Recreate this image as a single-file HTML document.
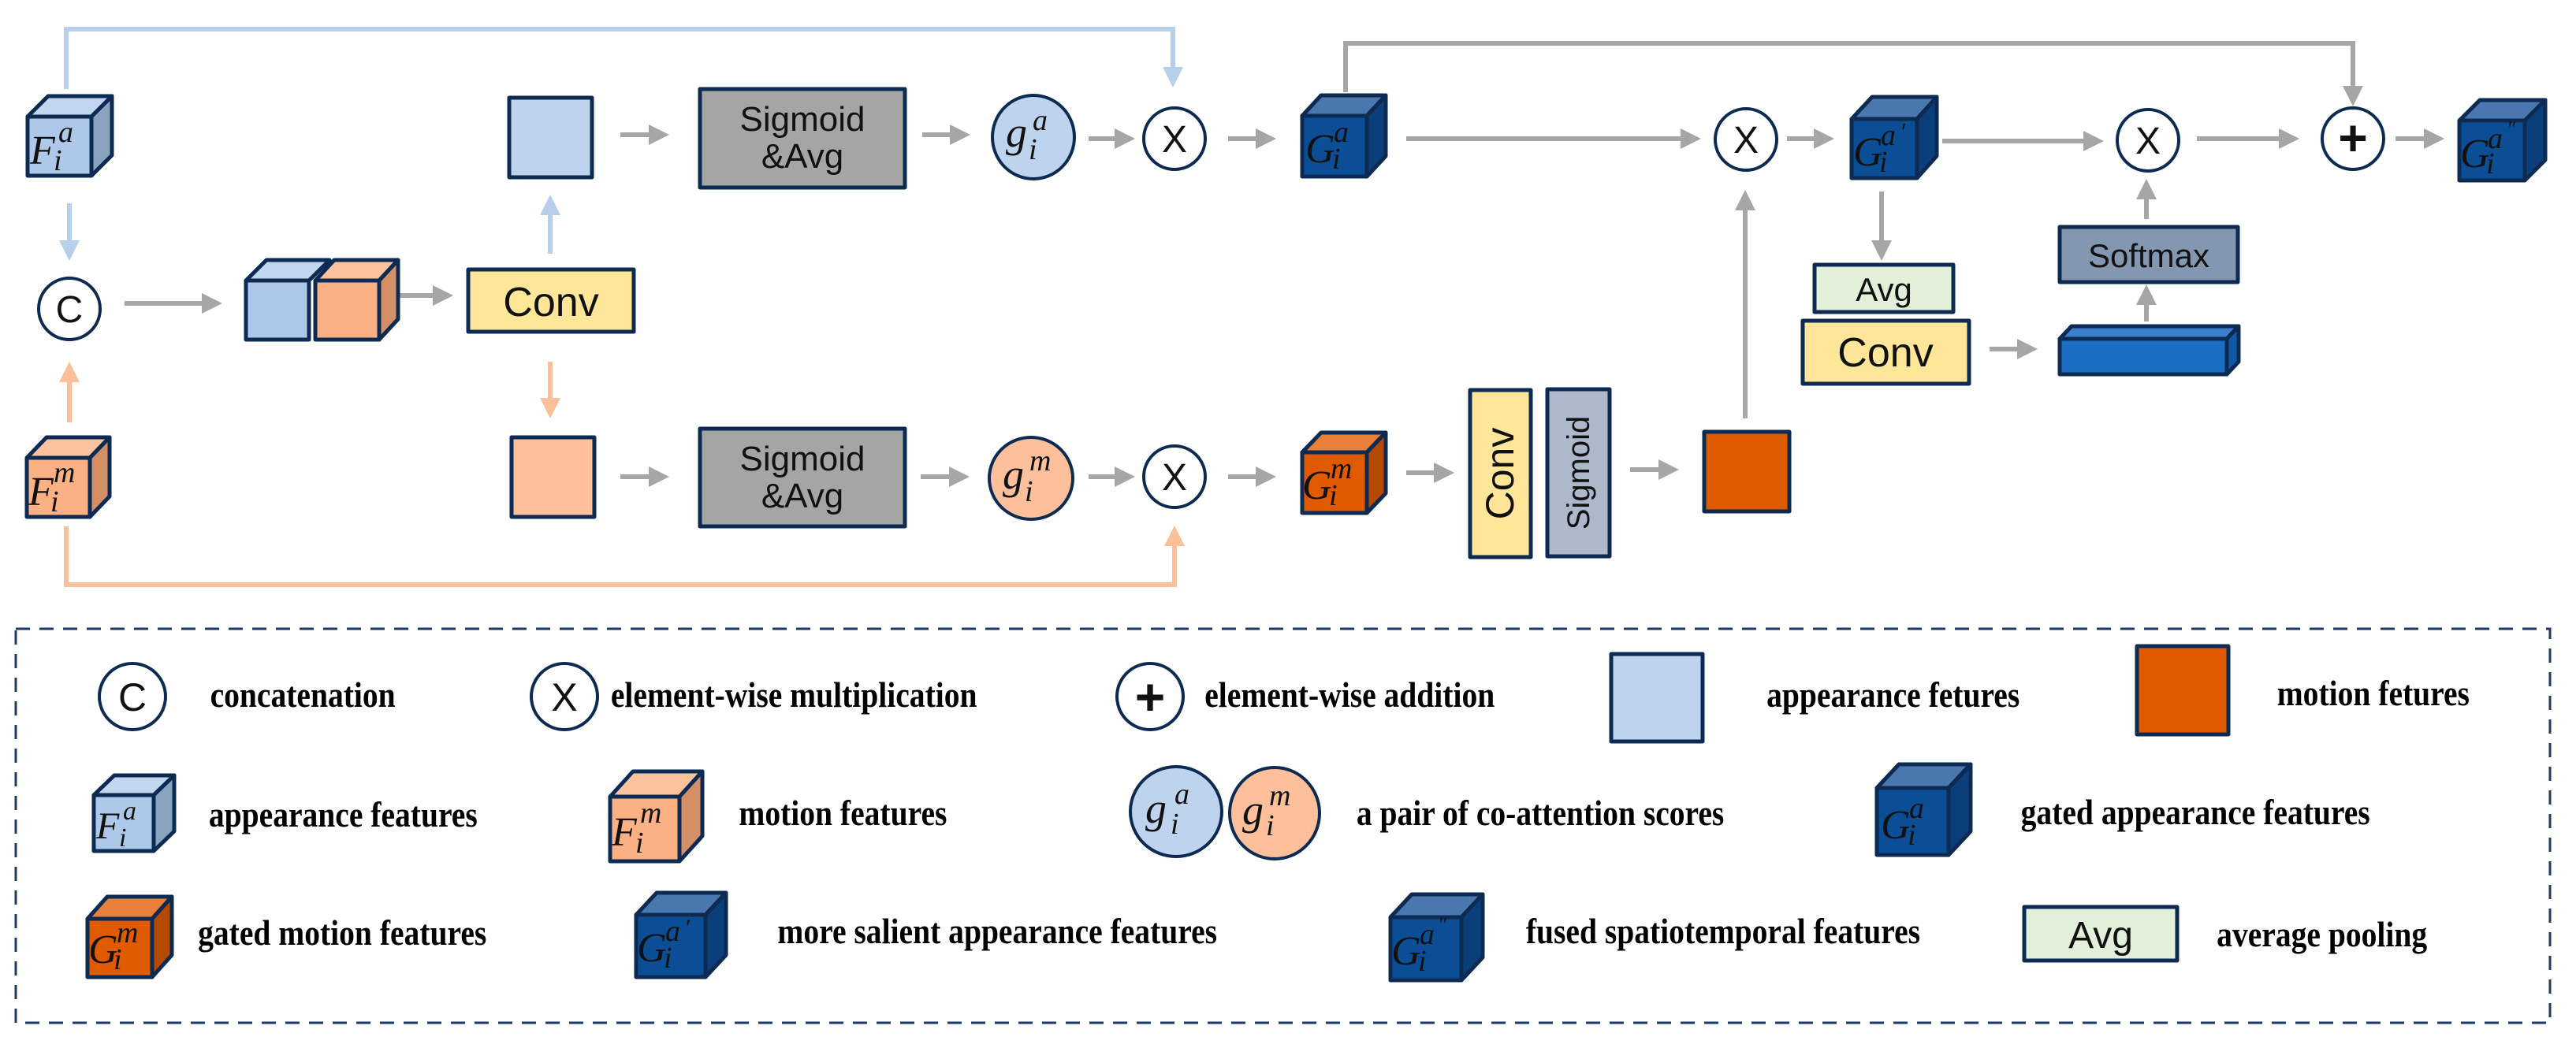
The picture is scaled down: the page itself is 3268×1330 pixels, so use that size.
<!DOCTYPE html>
<html><head><meta charset="utf-8"><style>
html,body{margin:0;padding:0;background:#fff}
svg{display:block}
.m{font-family:"Liberation Serif",serif;font-style:italic;fill:#111}
.s{font-family:"Liberation Sans",sans-serif;fill:#111}
.l{font-family:"Liberation Serif",serif;font-weight:bold;fill:#000;font-size:46px}
</style></head><body>
<svg width="3268" height="1330" viewBox="0 0 3268 1330" xmlns="http://www.w3.org/2000/svg">
<defs>
<marker id="ag" markerUnits="userSpaceOnUse" markerWidth="28" markerHeight="26" refX="2" refY="13" orient="auto"><path d="M0,0 L26,13 L0,26 z" fill="#a6a6a6"/></marker>
<marker id="ab" markerUnits="userSpaceOnUse" markerWidth="28" markerHeight="26" refX="2" refY="13" orient="auto"><path d="M0,0 L26,13 L0,26 z" fill="#b8cfec"/></marker>
<marker id="ao" markerUnits="userSpaceOnUse" markerWidth="28" markerHeight="26" refX="2" refY="13" orient="auto"><path d="M0,0 L26,13 L0,26 z" fill="#fbbf99"/></marker>
</defs>

<g stroke="#a6a6a6" stroke-width="6" fill="none" marker-end="url(#ag)">
<line x1="158" y1="385" x2="258" y2="385"/>
<line x1="505" y1="375" x2="551" y2="375"/>
<line x1="787" y1="171" x2="825" y2="171"/>
<line x1="787" y1="605" x2="825" y2="605"/>
<line x1="1170" y1="171" x2="1207" y2="171"/>
<line x1="1168" y1="605" x2="1206" y2="605"/>
<line x1="1381" y1="176" x2="1416" y2="176"/>
<line x1="1381" y1="605" x2="1416" y2="605"/>
<line x1="1558" y1="176" x2="1595" y2="176"/>
<line x1="1558" y1="605" x2="1595" y2="605"/>
<line x1="1784" y1="176" x2="2134" y2="176"/>
<line x1="1784" y1="600" x2="1821" y2="600"/>
<line x1="2068" y1="596" x2="2106" y2="596"/>
<line x1="2214" y1="531" x2="2214" y2="265"/>
<line x1="2267" y1="176" x2="2303" y2="176"/>
<line x1="2464" y1="179" x2="2645" y2="179"/>
<line x1="2787" y1="176" x2="2893" y2="176"/>
<line x1="3039" y1="176" x2="3077" y2="176"/>
<line x1="2387" y1="243" x2="2387" y2="307"/>
<line x1="2524" y1="443" x2="2561" y2="443"/>
<line x1="2723" y1="408" x2="2723" y2="385"/>
<line x1="2723" y1="278" x2="2723" y2="251"/>
<polyline points="1707,117 1707,55 2985,55 2985,111"/>
</g>
<g stroke="#b8cfec" stroke-width="6" fill="none" marker-end="url(#ab)">
<polyline points="84,113 84,37 1488,37 1488,87"/>
<line x1="88" y1="258" x2="88" y2="307"/>
<line x1="698" y1="322" x2="698" y2="271"/>
</g>
<g stroke="#fbbf99" stroke-width="6" fill="none" marker-end="url(#ao)">
<polyline points="84,668 84,742 1490,742 1490,691"/>
<line x1="88" y1="536" x2="88" y2="483"/>
<line x1="698" y1="459" x2="698" y2="507"/>
</g>

<g stroke="#0d2b52" stroke-width="5" stroke-linejoin="round">
<polygon points="35,148 61,122 142,122 116,148" fill="#c2d6ef"/>
<polygon points="116,148 142,122 142,197 116,223" fill="#8aa3bf"/>
<rect x="35" y="148" width="81" height="75" fill="#adc8e9"/>
<polygon points="34,581 59,555 139,555 114,581" fill="#fcc39e"/>
<polygon points="114,581 139,555 139,630 114,656" fill="#d58f67"/>
<rect x="34" y="581" width="80" height="75" fill="#fbb184"/>
<polygon points="312,356 338,330 418,330 392,356" fill="#c2d6ef"/>
<rect x="312" y="356" width="80" height="75" fill="#adc8e9"/>
<polygon points="400,356 424,330 505,330 481,356" fill="#fcc39e"/>
<polygon points="481,356 505,330 505,405 481,431" fill="#d58f67"/>
<rect x="400" y="356" width="81" height="75" fill="#fbb184"/>
<polygon points="1652,147 1676,121 1758,121 1734,147" fill="#4a77ad"/>
<polygon points="1734,147 1758,121 1758,198 1734,224" fill="#0a3f7c"/>
<rect x="1652" y="147" width="82" height="77" fill="#0b4e96"/>
<polygon points="1652,574 1676,549 1758,549 1734,574" fill="#e8803c"/>
<polygon points="1734,574 1758,549 1758,626 1734,651" fill="#b54900"/>
<rect x="1652" y="574" width="82" height="77" fill="#e05a00"/>
<polygon points="2349,151 2375,123 2457,123 2432,151" fill="#4a77ad"/>
<polygon points="2432,151 2457,123 2457,198 2432,226" fill="#0a3f7c"/>
<rect x="2349" y="151" width="83" height="75" fill="#0b4e96"/>
<polygon points="3120,153 3146,127 3229,127 3203,153" fill="#4a77ad"/>
<polygon points="3203,153 3229,127 3229,203 3203,229" fill="#0a3f7c"/>
<rect x="3120" y="153" width="83" height="76" fill="#0b4e96"/>
<polygon points="2613,430 2628,414 2840,414 2825,430" fill="#3b7fcf"/>
<polygon points="2825,430 2840,414 2840,459 2825,475" fill="#0f5aa8"/>
<rect x="2613" y="430" width="212" height="45" fill="#1a6fc4"/>
<rect x="646" y="124" width="105" height="101" fill="#bdd3ee"/>
<rect x="649" y="555" width="105" height="101" fill="#fdc09b"/>
<rect x="594" y="342" width="210" height="79" fill="#ffe699"/>
<rect x="888" y="113" width="260" height="125" fill="#a5a5a5"/>
<rect x="888" y="544" width="260" height="124" fill="#a5a5a5"/>
<rect x="1865" y="495" width="77" height="212" fill="#ffe699"/>
<rect x="1963" y="494" width="79" height="212" fill="#adb9ca"/>
<rect x="2162" y="548" width="108" height="101" fill="#e05a00"/>
<rect x="2302" y="336" width="176" height="60" fill="#e2f0d9"/>
<rect x="2287" y="407" width="211" height="80" fill="#ffe699"/>
<rect x="2613" y="288" width="226" height="70" fill="#8497b0"/>
</g>
<g stroke="#0d2b52" stroke-width="4">
<circle cx="88" cy="392" r="39" fill="#fff"/>
<circle cx="1490" cy="176" r="39" fill="#fff"/>
<circle cx="1490" cy="605" r="39" fill="#fff"/>
<circle cx="2215" cy="177" r="39" fill="#fff"/>
<circle cx="2725" cy="178" r="39" fill="#fff"/>
<circle cx="2985" cy="176" r="39" fill="#fff"/>
<ellipse cx="1311" cy="174" rx="52" ry="53" fill="#bdd3ee"/>
<ellipse cx="1308" cy="607" rx="53" ry="52" fill="#fdc09b"/>
</g>

<g class="s" text-anchor="middle">
<text x="88" y="409" font-size="48">C</text>
<text x="1490" y="193" font-size="48">X</text>
<text x="1490" y="622" font-size="48">X</text>
<text x="2215" y="194" font-size="48">X</text>
<text x="2725" y="195" font-size="48">X</text>
<text x="2985" y="197" font-size="64" font-weight="bold">+</text>
<text x="699" y="401" font-size="52">Conv</text>
<text x="1018" y="166" font-size="44">Sigmoid</text>
<text x="1018" y="213" font-size="44">&amp;Avg</text>
<text x="1018" y="597" font-size="44">Sigmoid</text>
<text x="1018" y="644" font-size="44">&amp;Avg</text>
<text x="2390" y="382" font-size="42">Avg</text>
<text x="2392" y="465" font-size="52">Conv</text>
<text x="2726" y="339" font-size="42">Softmax</text>
<text transform="translate(1920,601) rotate(-90)" font-size="50">Conv</text>
<text transform="translate(2016,600) rotate(-90)" font-size="40">Sigmoid</text>
</g>

<g class="m">
<text x="38" y="208" font-size="52">F</text><text x="74" y="180" font-size="38">a</text><text x="68" y="216" font-size="38">i</text>
<text x="36" y="641" font-size="52">F</text><text x="68" y="612" font-size="38">m</text><text x="64" y="649" font-size="38">i</text>
<text x="1276" y="186" font-size="54">g</text><text x="1310" y="165" font-size="38">a</text><text x="1305" y="202" font-size="38">i</text>
<text x="1272" y="620" font-size="54">g</text><text x="1306" y="597" font-size="38">m</text><text x="1300" y="636" font-size="38">i</text>
<text x="1656" y="206" font-size="52">G</text><text x="1692" y="180" font-size="38">a</text><text x="1690" y="214" font-size="38">i</text>
<text x="1652" y="633" font-size="52">G</text><text x="1688" y="607" font-size="38">m</text><text x="1686" y="641" font-size="38">i</text>
<text x="2351" y="210" font-size="52">G</text><text x="2386" y="184" font-size="38">a</text><text x="2410" y="178" font-size="32">′</text><text x="2384" y="218" font-size="38">i</text>
<text x="3121" y="212" font-size="52">G</text><text x="3156" y="188" font-size="38">a</text><text x="3180" y="172" font-size="26">"</text><text x="3154" y="220" font-size="38">i</text>
</g>

<rect x="20" y="798" width="3215" height="500" fill="none" stroke="#1f3864" stroke-width="3" stroke-dasharray="18 12"/>
<g stroke="#0d2b52" stroke-width="4">
<circle cx="168" cy="884" r="42" fill="#fff"/>
<circle cx="716" cy="884" r="42" fill="#fff"/>
<circle cx="1459" cy="884" r="42" fill="#fff"/>
<ellipse cx="1492" cy="1030" rx="58" ry="57" fill="#bdd3ee"/>
<ellipse cx="1617" cy="1032" rx="57" ry="58" fill="#fdc09b"/>
</g>
<g stroke="#0d2b52" stroke-width="5" stroke-linejoin="round">
<rect x="2044" y="830" width="116" height="111" fill="#bdd3ee"/>
<rect x="2711" y="820" width="116" height="112" fill="#e05a00"/>
<rect x="2568" y="1151" width="194" height="68" fill="#e2f0d9"/>
<polygon points="119,1009 145,984 221,984 195,1009" fill="#c2d6ef"/>
<polygon points="195,1009 221,984 221,1055 195,1080" fill="#8aa3bf"/>
<rect x="119" y="1009" width="76" height="71" fill="#adc8e9"/>
<polygon points="774,1011 803,979 891,979 862,1011" fill="#fcc39e"/>
<polygon points="862,1011 891,979 891,1061 862,1093" fill="#d58f67"/>
<rect x="774" y="1011" width="88" height="82" fill="#fbb184"/>
<polygon points="2381,1000 2409,970 2500,970 2472,1000" fill="#4a77ad"/>
<polygon points="2472,1000 2500,970 2500,1055 2472,1085" fill="#0a3f7c"/>
<rect x="2381" y="1000" width="91" height="85" fill="#0b4e96"/>
<polygon points="111,1166 136,1138 218,1138 193,1166" fill="#e8803c"/>
<polygon points="193,1166 218,1138 218,1212 193,1240" fill="#b54900"/>
<rect x="111" y="1166" width="82" height="74" fill="#e05a00"/>
<polygon points="807,1161 833,1133 921,1133 895,1161" fill="#4a77ad"/>
<polygon points="895,1161 921,1133 921,1212 895,1240" fill="#0a3f7c"/>
<rect x="807" y="1161" width="88" height="79" fill="#0b4e96"/>
<polygon points="1764,1164 1791,1135 1881,1135 1854,1164" fill="#4a77ad"/>
<polygon points="1854,1164 1881,1135 1881,1215 1854,1244" fill="#0a3f7c"/>
<rect x="1764" y="1164" width="90" height="80" fill="#0b4e96"/>
</g>
<g class="s" text-anchor="middle">
<text x="168" y="902" font-size="50">C</text>
<text x="716" y="902" font-size="50">X</text>
<text x="1459" y="907" font-size="66" font-weight="bold">+</text>
<text x="2665" y="1203" font-size="48">Avg</text>
</g>
<g class="m">
<text x="122" y="1064" font-size="48">F</text><text x="156" y="1040" font-size="34">a</text><text x="151" y="1074" font-size="34">i</text>
<text x="776" y="1073" font-size="52">F</text><text x="812" y="1044" font-size="38">m</text><text x="806" y="1082" font-size="38">i</text>
<text x="1453" y="1044" font-size="54">g</text><text x="1490" y="1020" font-size="38">a</text><text x="1485" y="1058" font-size="38">i</text>
<text x="1576" y="1046" font-size="54">g</text><text x="1610" y="1022" font-size="38">m</text><text x="1606" y="1060" font-size="38">i</text>
<text x="2386" y="1064" font-size="52">G</text><text x="2422" y="1038" font-size="38">a</text><text x="2420" y="1072" font-size="38">i</text>
<text x="112" y="1222" font-size="52">G</text><text x="148" y="1196" font-size="38">m</text><text x="144" y="1230" font-size="38">i</text>
<text x="808" y="1220" font-size="52">G</text><text x="844" y="1194" font-size="38">a</text><text x="868" y="1188" font-size="32">′</text><text x="842" y="1228" font-size="38">i</text>
<text x="1765" y="1224" font-size="52">G</text><text x="1801" y="1198" font-size="38">a</text><text x="1824" y="1182" font-size="26">"</text><text x="1799" y="1232" font-size="38">i</text>
</g>
<g class="l" transform="scale(0.86,1)">
<text x="310" y="897">concatenation</text>
<text x="901" y="897">element-wise multiplication</text>
<text x="1777" y="897">element-wise addition</text>
<text x="2606" y="897">appearance fetures</text>
<text x="3359" y="895">motion fetures</text>
<text x="308" y="1049">appearance features</text>
<text x="1090" y="1047">motion features</text>
<text x="2001" y="1047">a pair of co-attention scores</text>
<text x="2981" y="1046">gated appearance features</text>
<text x="292" y="1199">gated motion features</text>
<text x="1147" y="1197">more salient appearance features</text>
<text x="2251" y="1197">fused spatiotemporal features</text>
<text x="3270" y="1201">average pooling</text>
</g>
</svg>
</body></html>
